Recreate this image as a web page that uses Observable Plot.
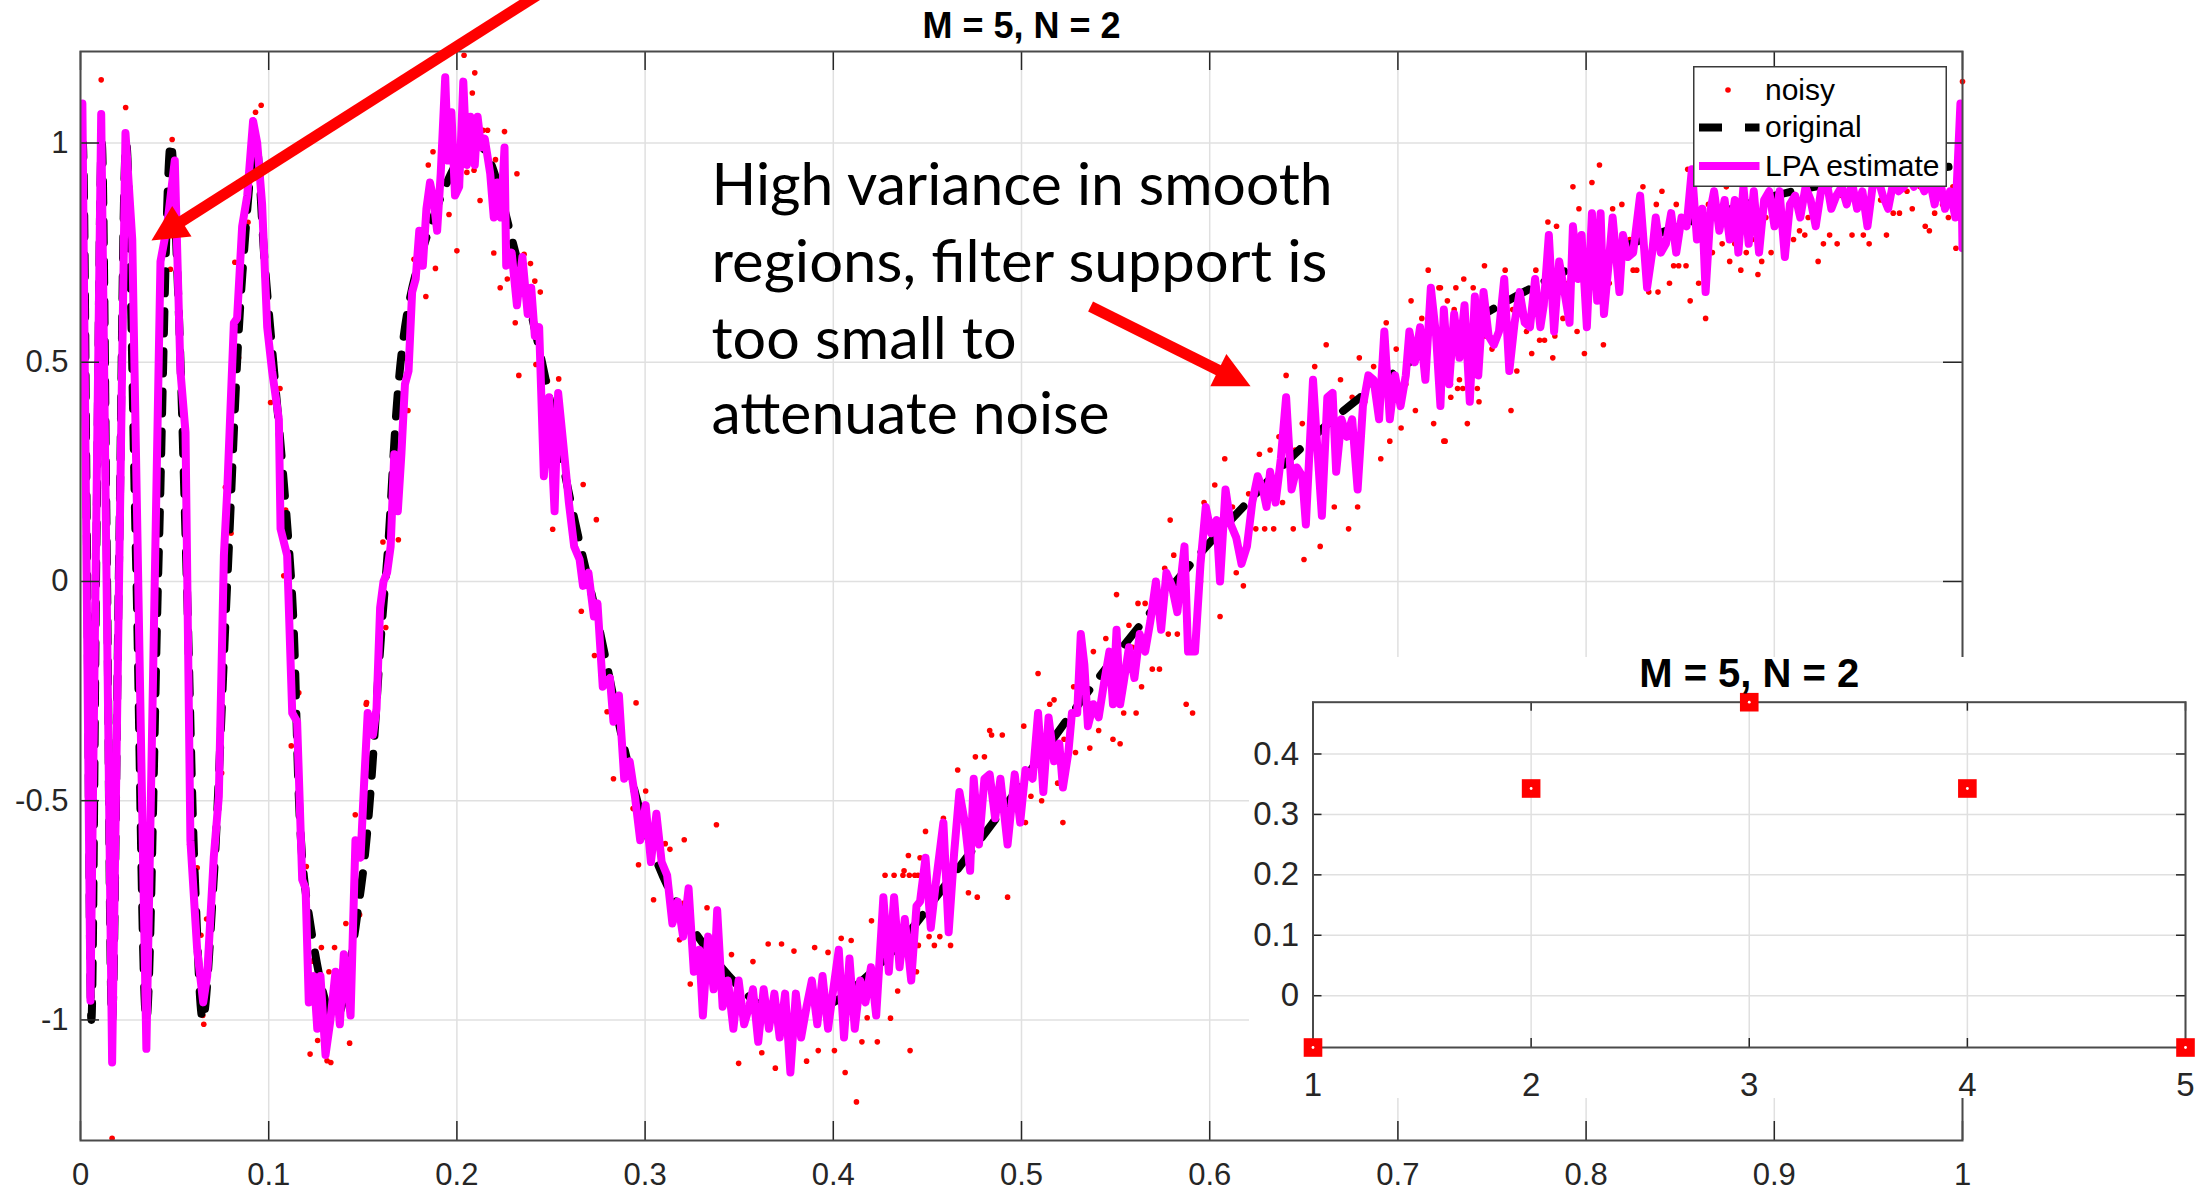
<!DOCTYPE html>
<html><head><meta charset="utf-8">
<script src="https://cdn.jsdelivr.net/npm/d3@7"></script>
<script src="https://cdn.jsdelivr.net/npm/@observablehq/plot@0.6"></script>
<style>
html,body{margin:0;padding:0;background:#fff;}
#fig{position:relative;width:2210px;height:1191px;overflow:hidden;background:#fff;}
#main{position:absolute;left:0;top:0;}
#legend{position:absolute;left:1693px;top:66px;}
#inset{position:absolute;left:1249px;top:627px;}
</style></head><body>
<div id="fig"><div id="main"></div><div id="legend"></div><div id="inset"></div></div>
<script>
// ---------------- data ----------------
const titleText = "M = 5, N = 2";
const xTicks = [0, 0.1, 0.2, 0.3, 0.4, 0.5, 0.6, 0.7, 0.8, 0.9, 1];
const yTicks = [-1, -0.5, 0, 0.5, 1];
const yDomain = [-1.275, 1.2087];

// original (noise-free) signal, key points
const original = [
[0,0.80],[0.0012,1.0],[0.0034,0.1],[0.0058,-1.0],[0.0085,0.1],[0.0113,1.0],[0.014,0.05],[0.0168,-1.0],
[0.0205,0.05],[0.0243,1.0],[0.0295,0.05],[0.035,-1.0],[0.0415,0.05],[0.048,1.0],[0.0515,0.7],[0.0565,0.0],
[0.061,-0.7],[0.065,-1.0],[0.0705,-0.7],[0.078,0.0],[0.086,0.7],[0.093,1.0],[0.098,0.72],[0.112,0.0],
[0.12,-0.72],[0.135,-1.0],[0.149,-0.7],[0.162,0.0],[0.178,0.7],[0.21,1.0],[0.233,0.72],[0.27,0.0],
[0.315,-0.72],[0.375,-1.0],[0.40,-0.96],[0.43,-0.85],[0.46,-0.69],[0.49,-0.52],[0.52,-0.34],[0.55,-0.17],
[0.59,0.04],[0.62,0.18],[0.65,0.31],[0.68,0.42],[0.72,0.54],[0.75,0.62],[0.79,0.71],[0.83,0.78],
[0.87,0.84],[0.91,0.89],[0.95,0.92],[1.0,0.95]];

// LPA estimate
const lpa = [
[0,0.74],[0.001,1.09],[0.0053,-0.956],[0.011,1.066],[0.0168,-1.097],[0.0239,1.023],[0.0275,0.78],[0.035,-1.066],
[0.0425,0.73],[0.046,0.81],[0.0501,0.96],[0.0531,0.48],[0.0558,0.34],[0.0584,-0.59],[0.062,-0.84],[0.0652,-0.96],
[0.0673,-0.9],[0.0708,-0.63],[0.0735,-0.49],[0.0762,0.06],[0.078,0.21],[0.0815,0.59],[0.0832,0.6],[0.0859,0.81],
[0.0886,0.88],[0.0917,1.05],[0.0939,1.0],[0.0965,0.86],[0.0992,0.58],[0.1018,0.48],[0.1054,0.37],[0.1063,0.12],
[0.1098,0.06],[0.1125,-0.30],[0.1151,-0.32],[0.1178,-0.68],[0.1196,-0.70],[0.1213,-0.96],[0.124,-0.9],[0.1258,-1.02],
[0.1275,-0.9],[0.1302,-1.08],[0.1328,-1.0],[0.1355,-0.89],[0.1378,-1.01],[0.1399,-0.85],[0.1435,-0.99],[0.1461,-0.59],
[0.1488,-0.63],[0.1507,-0.46],[0.1526,-0.30],[0.1554,-0.35],[0.1573,-0.29],[0.1592,-0.06],[0.161,0.0],[0.1629,0.02],
[0.1648,0.08],[0.1667,0.29],[0.1686,0.16],[0.1705,0.29],[0.1724,0.45],[0.1743,0.48],[0.1762,0.66],[0.1781,0.69],
[0.18,0.80],[0.1819,0.72],[0.1838,0.85],[0.1857,0.91],[0.1876,0.87],[0.1895,0.80],[0.1914,0.93],[0.1938,1.15],
[0.1953,0.96],[0.1971,1.07],[0.199,0.88],[0.2012,0.90],[0.2034,1.14],[0.2053,0.95],[0.2072,1.06],[0.2095,0.95],
[0.211,1.06],[0.2129,0.99],[0.2148,1.01],[0.2177,0.93],[0.2196,0.83],[0.2215,0.91],[0.2234,0.83],[0.2253,0.99],
[0.2262,0.72],[0.2291,0.75],[0.2319,0.63],[0.2348,0.74],[0.2376,0.61],[0.2395,0.67],[0.2414,0.56],[0.2437,0.58],
[0.2462,0.24],[0.249,0.42],[0.2519,0.16],[0.2538,0.43],[0.2566,0.31],[0.2595,0.18],[0.2623,0.08],[0.2652,0.05],
[0.267,-0.01],[0.2699,0.02],[0.2728,-0.08],[0.2747,-0.05],[0.2775,-0.24],[0.2813,-0.22],[0.2832,-0.32],[0.2861,-0.26],
[0.2889,-0.45],[0.2918,-0.41],[0.2946,-0.49],[0.2974,-0.59],[0.3003,-0.51],[0.3031,-0.64],[0.306,-0.53],[0.3088,-0.64],
[0.3117,-0.67],[0.3145,-0.78],[0.3174,-0.73],[0.3202,-0.81],[0.3231,-0.70],[0.3259,-0.89],[0.3288,-0.84],[0.3307,-0.99],
[0.3335,-0.81],[0.3364,-0.93],[0.3383,-0.75],[0.3412,-0.97],[0.344,-0.91],[0.3469,-1.02],[0.3497,-0.91],[0.3526,-1.01],
[0.3553,-0.97],[0.3573,-0.93],[0.3601,-1.05],[0.363,-0.93],[0.3658,-1.02],[0.3687,-0.94],[0.3715,-1.04],[0.3744,-0.94],
[0.3772,-1.12],[0.3801,-0.94],[0.3829,-1.04],[0.3858,-0.97],[0.3886,-0.91],[0.3915,-1.01],[0.3943,-0.90],[0.3972,-1.02],
[0.40,-0.93],[0.4029,-0.84],[0.4057,-1.04],[0.4086,-0.86],[0.4114,-1.02],[0.4143,-0.91],[0.4171,-0.96],[0.42,-0.88],
[0.4228,-0.99],[0.4266,-0.72],[0.4295,-0.89],[0.4323,-0.72],[0.4352,-0.88],[0.438,-0.77],[0.4414,-0.91],[0.4442,-0.74],
[0.4461,-0.73],[0.449,-0.63],[0.4518,-0.79],[0.4547,-0.68],[0.4585,-0.55],[0.4613,-0.80],[0.4642,-0.62],[0.467,-0.48],
[0.4699,-0.55],[0.4727,-0.66],[0.4746,-0.45],[0.4774,-0.60],[0.4803,-0.45],[0.4831,-0.44],[0.486,-0.54],[0.4888,-0.45],
[0.4926,-0.60],[0.4964,-0.44],[0.4993,-0.55],[0.5021,-0.43],[0.5059,-0.45],[0.5088,-0.30],[0.5116,-0.48],[0.5144,-0.31],
[0.5173,-0.41],[0.5201,-0.37],[0.522,-0.47],[0.5249,-0.39],[0.5268,-0.30],[0.5296,-0.30],[0.5315,-0.12],[0.5334,-0.19],
[0.5353,-0.33],[0.5382,-0.28],[0.541,-0.31],[0.5439,-0.23],[0.5467,-0.16],[0.5486,-0.28],[0.5505,-0.11],[0.5524,-0.28],
[0.5543,-0.23],[0.5571,-0.15],[0.56,-0.22],[0.5628,-0.12],[0.5657,-0.16],[0.5685,-0.09],[0.5714,0.0],[0.5742,-0.11],
[0.577,0.02],[0.5799,-0.01],[0.5828,-0.07],[0.5866,0.08],[0.5885,-0.16],[0.5922,-0.16],[0.5951,0.04],[0.5979,0.17],
[0.6008,0.11],[0.6036,0.14],[0.6055,0.0],[0.6084,0.21],[0.6112,0.13],[0.6141,0.10],[0.6169,0.04],[0.6198,0.08],
[0.6226,0.18],[0.6255,0.24],[0.6283,0.21],[0.6302,0.17],[0.6321,0.25],[0.635,0.18],[0.6378,0.28],[0.6406,0.42],
[0.6435,0.21],[0.6463,0.26],[0.6492,0.24],[0.6511,0.13],[0.6549,0.46],[0.6568,0.33],[0.6596,0.15],[0.6625,0.42],
[0.6653,0.43],[0.6672,0.25],[0.67,0.37],[0.6729,0.33],[0.6757,0.37],[0.6786,0.21],[0.6814,0.40],[0.6843,0.47],
[0.6871,0.46],[0.69,0.37],[0.6928,0.57],[0.6957,0.37],[0.6985,0.47],[0.7014,0.40],[0.7042,0.47],[0.7061,0.57],
[0.709,0.50],[0.7118,0.58],[0.7146,0.46],[0.7175,0.67],[0.7203,0.56],[0.7226,0.40],[0.7244,0.62],[0.7272,0.45],
[0.7299,0.61],[0.7327,0.51],[0.7354,0.63],[0.7382,0.41],[0.7409,0.65],[0.7427,0.47],[0.7455,0.66],[0.7482,0.56],
[0.751,0.54],[0.7537,0.57],[0.7565,0.69],[0.7592,0.48],[0.762,0.59],[0.7647,0.66],[0.7674,0.59],[0.7702,0.58],
[0.7729,0.69],[0.7757,0.58],[0.7775,0.63],[0.7802,0.79],[0.783,0.57],[0.7857,0.73],[0.7885,0.66],[0.7912,0.59],
[0.793,0.81],[0.7958,0.69],[0.7976,0.79],[0.8004,0.58],[0.8031,0.84],[0.8059,0.64],[0.8077,0.84],[0.8095,0.61],
[0.8123,0.74],[0.8141,0.83],[0.8177,0.66],[0.8196,0.79],[0.8223,0.74],[0.825,0.75],[0.8287,0.88],[0.8324,0.67],
[0.8351,0.75],[0.837,0.83],[0.8397,0.75],[0.8424,0.77],[0.8452,0.84],[0.8479,0.75],[0.8507,0.83],[0.8534,0.81],
[0.8562,0.94],[0.8589,0.78],[0.8617,0.85],[0.8635,0.66],[0.8662,0.85],[0.868,0.89],[0.8708,0.80],[0.8736,0.87],
[0.8763,0.78],[0.879,0.87],[0.8809,0.75],[0.8836,0.90],[0.8864,0.77],[0.8891,0.89],[0.8919,0.75],[0.8946,0.87],
[0.8973,0.89],[0.9001,0.81],[0.9028,0.89],[0.9056,0.74],[0.9083,0.86],[0.9111,0.88],[0.9138,0.83],[0.9166,0.90],
[0.9193,0.87],[0.922,0.81],[0.9248,0.89],[0.9275,0.92],[0.9303,0.85],[0.933,0.88],[0.9358,0.90],[0.9385,0.86],
[0.9413,0.91],[0.944,0.85],[0.9468,0.89],[0.9495,0.81],[0.9522,0.90],[0.955,0.92],[0.9577,0.88],[0.9605,0.85],
[0.9632,0.91],[0.966,0.89],[0.9687,0.90],[0.9715,0.92],[0.9742,0.90],[0.9769,0.92],[0.9797,0.89],[0.9824,0.92],
[0.9852,0.86],[0.9879,0.92],[0.9907,0.85],[0.9934,0.89],[0.9962,0.83],[0.9989,1.09],[1.0,0.76]];

// noisy samples (visible ones)
const noisy = [
[0.011,1.144],[0.024,1.081],[0.0487,1.008],[0.0062,-0.967],[0.0168,-1.27],[0.0478,0.712],[0.093,1.07],[0.096,1.086],
[0.089,0.819],[0.082,0.728],[0.084,0.51],[0.101,0.408],[0.106,0.44],[0.109,0.163],[0.108,0.013],[0.116,-0.254],
[0.112,-0.375],[0.077,0.215],[0.080,0.11],[0.075,-0.437],[0.058,-0.6],[0.062,-0.653],[0.064,-0.807],[0.067,-0.77],
[0.065,-0.99],[0.0655,-1.01],[0.12,-0.65],[0.123,-0.866],[0.122,-1.078],[0.126,-1.047],[0.128,-0.835],[0.132,-0.89],
[0.135,-0.835],[0.131,-1.093],[0.133,-1.097],[0.143,-1.053],[0.141,-0.78],[0.146,-0.532],[0.148,-0.76],[0.152,-0.276],
[0.1483,-0.76],[0.1518,-0.28],[0.155,-0.40],[0.1616,-0.025],[0.1607,0.09],[0.1622,-0.105],[0.1689,0.095],[0.1721,0.51],
[0.174,0.39],[0.1772,0.735],[0.1835,0.65],[0.1848,0.95],[0.1873,0.98],[0.1886,0.714],[0.1958,0.837],[0.2,0.754],
[0.2038,1.2],[0.2082,1.114],[0.2095,1.16],[0.2053,0.933],[0.2091,0.938],[0.2123,0.869],[0.2139,1.029],[0.2163,1.029],
[0.2196,0.749],[0.2205,0.962],[0.223,0.67],[0.2253,1.026],[0.2268,0.69],[0.2319,0.93],[0.231,0.59],[0.2329,0.47],
[0.2357,0.746],[0.2391,0.725],[0.2414,0.685],[0.2443,0.66],[0.242,0.495],[0.2481,0.457],[0.2541,0.462],[0.2509,0.119],
[0.2671,0.221],[0.2741,0.141],[0.2661,-0.068],[0.2731,-0.169],[0.2798,-0.297],[0.2832,-0.45],[0.2952,-0.277],[0.2936,-0.518],
[0.2965,-0.646],[0.3003,-0.478],[0.3045,-0.726],[0.3107,-0.598],[0.3132,-0.611],[0.3208,-0.589],[0.3202,-0.734],[0.3183,-0.817],
[0.324,-0.918],[0.3329,-0.744],[0.3379,-0.555],[0.3459,-0.851],[0.3497,-0.910],[0.3573,-0.867],[0.3497,-1.099],[0.362,-1.075],
[0.3654,-0.827],[0.3692,-1.110],[0.3725,-0.827],[0.3791,-0.843],[0.3797,-1.011],[0.3858,-1.094],[0.3901,-0.835],[0.392,-1.07],
[0.3972,-0.846],[0.4006,-1.07],[0.4042,-0.814],[0.4063,-1.12],[0.4095,-0.819],[0.4123,-1.187],[0.4152,-1.05],[0.418,-0.995],
[0.4203,-0.774],[0.4234,-1.05],[0.4275,-0.67],[0.4304,-0.996],[0.4323,-0.67],[0.4342,-0.934],[0.437,-0.67],[0.4399,-0.625],
[0.4408,-1.07],[0.4427,-0.795],[0.445,-0.67],[0.4442,-0.89],[0.4376,-0.66],[0.4404,-0.67],[0.4433,-0.67],[0.4461,-0.63],
[0.4452,-0.83],[0.449,-0.57],[0.4509,-0.81],[0.4537,-0.83],[0.4566,-0.81],[0.4585,-0.54],[0.4623,-0.83],[0.4661,-0.43],
[0.4718,-0.71],[0.4755,-0.40],[0.4765,-0.72],[0.4803,-0.40],[0.4831,-0.34],[0.4841,-0.35],[0.4898,-0.35],[0.4926,-0.72],
[0.4964,-0.48],[0.5021,-0.55],[0.5012,-0.33],[0.505,-0.49],[0.5088,-0.21],[0.5107,-0.50],[0.515,-0.28],[0.5173,-0.27],
[0.5192,-0.46],[0.522,-0.55],[0.5226,-0.36],[0.5277,-0.24],[0.5287,-0.39],[0.5363,-0.38],[0.5382,-0.16],[0.541,-0.34],
[0.5448,-0.13],[0.5486,-0.36],[0.5505,-0.03],[0.5524,-0.37],[0.5543,-0.30],[0.5571,-0.10],[0.559,-0.15],[0.5609,-0.30],
[0.5619,-0.05],[0.5638,-0.24],[0.5657,-0.05],[0.5695,-0.20],[0.5733,-0.20],[0.5761,0.03],[0.578,-0.12],[0.579,0.14],
[0.5809,0.06],[0.5828,-0.12],[0.5875,-0.28],[0.5909,-0.30],[0.5951,0.0],[0.597,0.18],[0.6027,0.22],[0.6055,-0.08],
[0.608,0.28],[0.6121,0.17],[0.6141,0.02],[0.6179,-0.01],[0.6207,0.20],[0.6245,0.12],[0.6264,0.29],[0.6292,0.12],
[0.6321,0.30],[0.634,0.12],[0.6368,0.33],[0.6387,0.18],[0.6406,0.47],[0.6444,0.12],[0.6454,0.30],[0.6492,0.36],
[0.6501,0.05],[0.6558,0.49],[0.6587,0.08],[0.6619,0.54],[0.6662,0.17],[0.6695,0.46],[0.6738,0.12],[0.6757,0.42],
[0.6786,0.17],[0.6795,0.51],[0.6824,0.41],[0.6871,0.49],[0.6909,0.28],[0.6938,0.59],[0.6957,0.32],[0.6991,0.53],
[0.7017,0.35],[0.7042,0.45],[0.707,0.64],[0.7093,0.39],[0.7127,0.60],[0.7161,0.71],[0.719,0.36],[0.7218,0.67],
[0.7251,0.32],[0.7279,0.45],[0.7308,0.67],[0.7317,0.44],[0.7226,0.67],[0.7244,0.32],[0.7263,0.64],[0.7281,0.42],
[0.7299,0.62],[0.7327,0.46],[0.7345,0.44],[0.735,0.69],[0.7369,0.36],[0.74,0.67],[0.7422,0.44],[0.7431,0.41],
[0.746,0.72],[0.7464,0.56],[0.75,0.53],[0.757,0.71],[0.7601,0.39],[0.761,0.62],[0.7632,0.48],[0.765,0.66],
[0.7683,0.57],[0.7711,0.52],[0.7733,0.71],[0.7753,0.55],[0.7779,0.55],[0.7797,0.82],[0.7823,0.51],[0.7834,0.56],
[0.7843,0.81],[0.7877,0.60],[0.7888,0.68],[0.793,0.90],[0.7952,0.57],[0.7962,0.85],[0.7991,0.52],[0.8031,0.91],
[0.8071,0.95],[0.8092,0.54],[0.8123,0.68],[0.8141,0.85],[0.819,0.86],[0.8232,0.78],[0.825,0.71],[0.8269,0.71],
[0.8302,0.90],[0.8333,0.66],[0.8373,0.86],[0.8382,0.66],[0.8403,0.89],[0.8443,0.68],[0.8448,0.82],[0.8465,0.72],
[0.8479,0.86],[0.8492,0.72],[0.8531,0.72],[0.854,0.94],[0.8553,0.64],[0.8598,0.68],[0.8635,0.60],[0.865,0.86],
[0.8671,0.75],[0.8723,0.77],[0.8745,0.90],[0.8763,0.73],[0.879,0.77],[0.8822,0.71],[0.8851,0.75],[0.8882,0.78],
[0.8913,0.70],[0.8933,0.73],[0.8955,0.83],[0.8983,0.75],[0.9102,0.78],[0.9134,0.80],[0.9162,0.79],[0.918,0.83],
[0.9233,0.73],[0.9261,0.77],[0.9294,0.79],[0.9334,0.77],[0.9358,0.88],[0.9413,0.79],[0.9473,0.79],[0.9504,0.77],
[0.9565,0.87],[0.9596,0.79],[0.9632,0.84],[0.9665,0.84],[0.9705,0.89],[0.9733,0.85],[0.9775,0.90],[0.9802,0.81],
[0.9824,0.80],[0.9852,0.84],[0.9894,0.86],[0.9925,0.83],[0.9949,0.90],[0.9965,0.76],[1.0,1.14]];

// inset: filter coefficients
const coefIndex = [1, 2, 3, 4, 5];
const coefValue = [-0.0857, 0.3429, 0.4857, 0.3429, -0.0857];
const insetYTicks = [0, 0.1, 0.2, 0.3, 0.4];

// legend entries
const legendLabels = ["noisy", "original", "LPA estimate"];

// annotation text
const noteLines = ["High variance in smooth", "regions, filter support is", "too small to", "attenuate noise"];

// ---------------- layout / styles ----------------
const W = 2210, H = 1191;
const mL = 80, mR = 248, mT = 51, mB = 51;
const frameW = W - mL - mR, frameH = H - mT - mB;
const tickLen = 19;
const axisColor = "#262626";
const gridColor = "#e0e0e0";
const sans = "'Liberation Sans', Arial, Helvetica, sans-serif";
const fmt = d => String(d);
const lineW = 8;

// annotation geometry (data units of the main axes)
const arrows = [
  {x1: 0.255, y1: 1.3706, x2: 0.0478, y2: 0.805, tipX: 0.0377, tipY: 0.7777, angle: 237.6},
  {x1: 0.5367, y1: 0.6271, x2: 0.6084, y2: 0.4737, tipX: 0.6217, tipY: 0.4454, angle: 116.5}
];
const noteX = 0.3353;
const noteY = [0.8597, 0.6826, 0.5079, 0.3368];
const noteWidth = [621, 616, 305, 398];
const headSymbol = {draw(ctx) { ctx.moveTo(0, 0); ctx.lineTo(-18, 36); ctx.lineTo(18, 36); ctx.closePath(); }};

const main = Plot.plot({
  width: W, height: H,
  marginLeft: mL, marginRight: mR, marginTop: mT, marginBottom: mB,
  style: {fontFamily: sans, fontSize: "31px", color: axisColor, background: "#fff"},
  x: {domain: [0, 1]},
  y: {domain: yDomain},
  marks: [
    Plot.gridX(xTicks, {stroke: gridColor, strokeOpacity: 1, strokeWidth: 1.5}),
    Plot.gridY(yTicks, {stroke: gridColor, strokeOpacity: 1, strokeWidth: 1.5}),
    Plot.dot(noisy, {x: d => d[0], y: d => d[1], r: 2.8, fill: "#ff0000"}),
    Plot.line(original, {x: d => d[0], y: d => d[1], stroke: "#000", strokeWidth: lineW, strokeDasharray: "22,18", curve: "catmull-rom", clip: true}),
    Plot.line(lpa, {x: d => d[0], y: d => d[1], stroke: "#ff00ff", strokeWidth: lineW, strokeLinejoin: "round", clip: true}),
    Plot.tickX(xTicks, {x: d => d, insetTop: frameH - tickLen, stroke: axisColor, strokeWidth: 1.5}),
    Plot.tickX(xTicks, {x: d => d, insetBottom: frameH - tickLen, stroke: axisColor, strokeWidth: 1.5}),
    Plot.tickY(yTicks, {y: d => d, insetRight: frameW - tickLen, stroke: axisColor, strokeWidth: 1.5}),
    Plot.tickY(yTicks, {y: d => d, insetLeft: frameW - tickLen, stroke: axisColor, strokeWidth: 1.5}),
    Plot.frame({stroke: "#4a4a4a", strokeWidth: 2}),
    Plot.axisX(xTicks, {tickSize: 0, tickPadding: 22, tickFormat: fmt, label: null}),
    Plot.axisY(yTicks, {tickSize: 0, tickPadding: 12, tickFormat: fmt, label: null}),
    Plot.text([titleText], {frameAnchor: "top", dy: -14, lineAnchor: "bottom", fontWeight: "bold", fontSize: 36, fill: "#000"}),
    Plot.link(arrows, {x1: "x1", y1: "y1", x2: "x2", y2: "y2", stroke: "#ff0000", strokeWidth: 11}),
    Plot.dot(arrows, {x: "tipX", y: "tipY", rotate: "angle", symbol: headSymbol, fill: "#ff0000"}),
    Plot.text(noteLines, {x: () => noteX, y: (d, i) => noteY[i], text: d => d, textAnchor: "start", lineAnchor: "bottom",
      fontFamily: "Lato, 'Open Sans', sans-serif", fontSize: 58, fill: "#000"})
  ]
});
d3.select(main).selectAll("text").each(function() {
  const i = noteLines.indexOf(this.textContent);
  if (i >= 0) { this.setAttribute("textLength", noteWidth[i]); this.setAttribute("lengthAdjust", "spacingAndGlyphs"); }
});
document.getElementById("main").appendChild(main);

// ---------------- legend ----------------
const lg = d3.select("#legend").append("svg").attr("width", 254).attr("height", 121);
lg.append("rect").attr("x", 0.75).attr("y", 0.75).attr("width", 252.5).attr("height", 119.5)
  .attr("fill", "#fff").attr("stroke", "#3a3a3a").attr("stroke-width", 1.5);
lg.append("circle").attr("cx", 35).attr("cy", 24).attr("r", 2.8).attr("fill", "#ff0000");
lg.append("line").attr("x1", 6).attr("x2", 66.5).attr("y1", 61.5).attr("y2", 61.5)
  .attr("stroke", "#000").attr("stroke-width", lineW).attr("stroke-dasharray", "23,23");
lg.append("line").attr("x1", 6).attr("x2", 66.5).attr("y1", 100).attr("y2", 100)
  .attr("stroke", "#ff00ff").attr("stroke-width", lineW);
const lgBase = [33.5, 71, 110];
legendLabels.forEach((t, i) => lg.append("text").attr("x", 72).attr("y", lgBase[i]).text(t)
  .attr("font-family", sans).attr("font-size", 30).attr("fill", "#000"));

// ---------------- inset ----------------
// the svg starts 30px above the white box so the title is not clipped
const topPad = 30, maskH = 441;
const IW = 961, IH = 460 + topPad, iL = 63.5, iR = 25, iT = 44.7 + topPad, iB = 51 + (IH - topPad - maskH);
const iTick = 9;
const innerW = IW - iL - iR, innerH = IH - iT - iB;
const coefs = coefIndex.map((k, i) => ({k, v: coefValue[i]}));
const inset = Plot.plot({
  width: IW, height: IH, marginLeft: iL, marginRight: iR, marginTop: iT, marginBottom: iB,
  style: {fontFamily: sans, fontSize: "33px", color: axisColor, background: "transparent"},
  x: {domain: [1, 5]},
  y: {domain: [-0.0857, 0.4857]},
  marks: [
    Plot.gridX(coefIndex, {stroke: gridColor, strokeOpacity: 1, strokeWidth: 1.5}),
    Plot.gridY(insetYTicks, {stroke: gridColor, strokeOpacity: 1, strokeWidth: 1.5}),
    Plot.tickX(coefIndex, {x: d => d, insetTop: innerH - iTick, stroke: axisColor, strokeWidth: 1.5}),
    Plot.tickX(coefIndex, {x: d => d, insetBottom: innerH - iTick, stroke: axisColor, strokeWidth: 1.5}),
    Plot.tickY(insetYTicks, {y: d => d, insetRight: innerW - iTick, stroke: axisColor, strokeWidth: 1.5}),
    Plot.tickY(insetYTicks, {y: d => d, insetLeft: innerW - iTick, stroke: axisColor, strokeWidth: 1.5}),
    Plot.frame({stroke: "#4a4a4a", strokeWidth: 2}),
    Plot.axisX(coefIndex, {tickSize: 0, tickPadding: 25, tickFormat: fmt, label: null}),
    Plot.axisY(insetYTicks, {tickSize: 0, tickPadding: 14, tickFormat: fmt, label: null}),
    Plot.dot(coefs, {x: "k", y: "v", symbol: "square", r: 10.5, fill: "#ff0000"}),
    Plot.dot(coefs, {x: "k", y: "v", r: 1.4, fill: "#fff"}),
    Plot.text([titleText], {frameAnchor: "top", dy: -15, lineAnchor: "bottom", fontWeight: "bold", fontSize: 40, fill: "#000"})
  ]
});
// white backing that hides the main axes under the inset (reference box ends above main x axis)
d3.select(inset).insert("rect", ":first-child").attr("x", 0).attr("y", topPad)
  .attr("width", IW).attr("height", maskH).attr("fill", "#fff");
document.getElementById("inset").appendChild(inset);
</script>
</body></html>
